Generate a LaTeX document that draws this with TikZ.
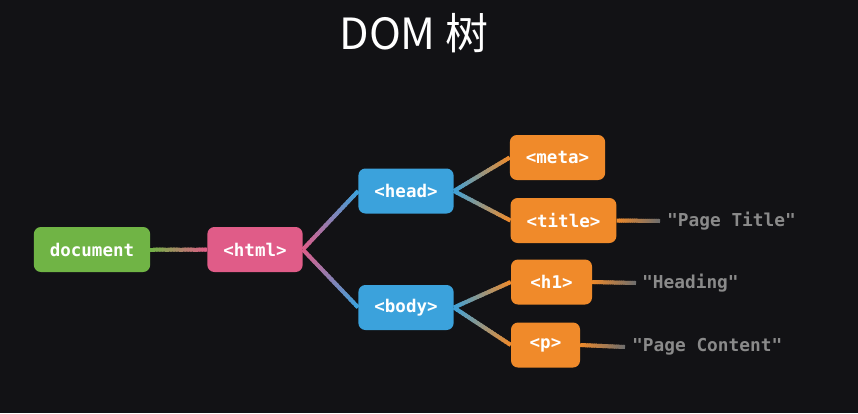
\documentclass[tikz,border=0pt]{standalone}
\usepackage{fontspec}
\usepackage{xcolor}
\usepackage{tikz}
\usetikzlibrary{calc}
\newfontfamily\cjkfont{Noto Sans CJK SC}
\newfontfamily\codefont{DejaVu Sans Mono}
\definecolor{domBg}{HTML}{121215}
\definecolor{domGreen}{HTML}{70B445}
\definecolor{domPink}{HTML}{E05C88}
\definecolor{domBlue}{HTML}{3BA2DC}
\definecolor{domOrange}{HTML}{F08A2A}
\definecolor{domGrey}{HTML}{8A8A8A}
\definecolor{domFade}{HTML}{6E6E6E}
\newcommand{\fade}[4]{%
  \foreach \k in {1,...,20}{%
    \pgfmathtruncatemacro{\mix}{102.5-5*\k}%
    \pgfmathsetmacro{\upto}{min(\k+0.6,20)/20}%
    \draw[line width=4pt,#3!\mix!#4]
      ($(#1)!{(\k-1)/20}!(#2)$) -- ($(#1)!\upto!(#2)$);}}

\begin{document}
\begin{tikzpicture}[x=1pt,y=-1pt,
  tag/.style={text=white,minimum height=45pt,inner xsep=16pt,inner ysep=0pt,
              rounded corners=7pt,font=\codefont\bfseries\fontsize{17.5}{20}\selectfont},
  leaf/.style={anchor=west,inner sep=0pt,text=domGrey,
               font=\codefont\bfseries\fontsize{17.8}{20}\selectfont}]
\fill[domBg] (0,0) rectangle (858,413);
\node[text=white,font=\cjkfont\fontsize{43}{48}\selectfont] (ttl) at (414,33) {DOM 树};

\node[tag,fill=domGreen] (doc)   at (92,249.5)  {document};
\node[tag,fill=domPink]  (html)  at (255,249.5) {<html>};
\node[tag,fill=domBlue]  (head)  at (406,191)   {<head>};
\node[tag,fill=domBlue]  (body)  at (406,307.5) {<body>};
\node[tag,fill=domOrange] (meta)  at (557.5,157.5) {<meta>};
\node[tag,fill=domOrange] (title) at (563.5,220.5) {<title>};
\node[tag,fill=domOrange,minimum width=81pt] (h1) at (551.5,282) {<h1>};
\node[tag,fill=domOrange,minimum width=69pt] (p)  at (545.5,345) {<p>};

\node[leaf] (tt) at (667,221) {"Page Title"};
\node[leaf] (th) at (642,283) {"Heading"};
\node[leaf] (tc) at (632,347) {"Page Content"};
\coordinate (ttend) at ($(tt.west)+(-7,0)$);
\coordinate (thend) at ($(th.west)+(-6,0)$);
\coordinate (tcend) at ($(tc.west)+(-7,0)$);

\fade{doc.east}{html.west}{domGreen}{domPink}
\fade{html.east}{head.west}{domPink}{domBlue}
\fade{html.east}{body.west}{domPink}{domBlue}
\fade{head.east}{meta.west}{domBlue}{domOrange}
\fade{head.east}{title.west}{domBlue}{domOrange}
\fade{body.east}{h1.west}{domBlue}{domOrange}
\fade{body.east}{p.west}{domBlue}{domOrange}
\fade{title.east}{ttend}{domOrange}{domFade}
\fade{h1.east}{thend}{domOrange}{domFade}
\fade{p.east}{tcend}{domOrange}{domFade}
\end{tikzpicture}
\end{document}
